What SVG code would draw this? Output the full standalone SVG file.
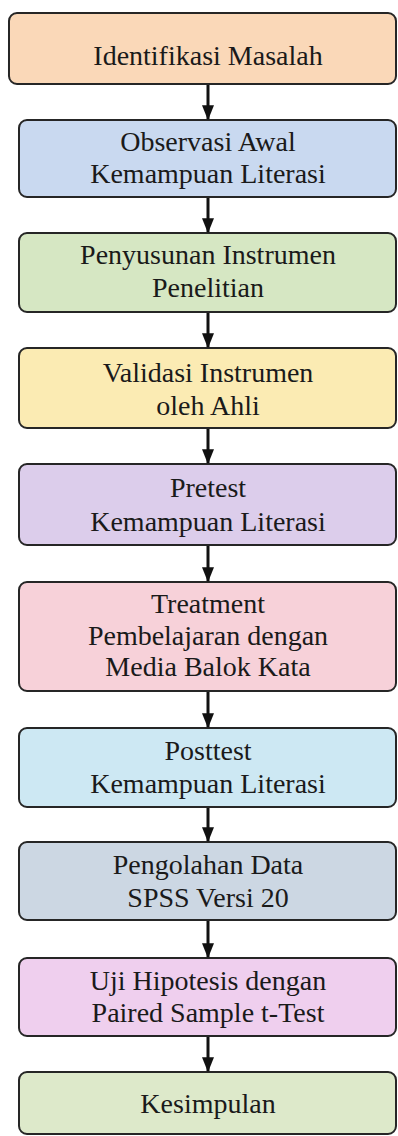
<svg xmlns="http://www.w3.org/2000/svg" width="398" height="1136" viewBox="0 0 398 1136">
<style>
.box{stroke:#262626;stroke-width:2}
.t{font-family:'Liberation Serif','DejaVu Serif',serif;font-size:28px;fill:#1a1a1a;text-anchor:middle}
.conn line{stroke:#111;stroke-width:3}
</style>
<defs>
<marker id="ah" markerWidth="5" markerHeight="4" refX="4.6" refY="2" orient="auto" markerUnits="strokeWidth">
<path d="M0,0 L5,2 L0,4 z" fill="#111"/>
</marker>
</defs>
<rect width="398" height="1136" fill="#ffffff"/>
<g id="n1"><rect class="box" x="9" y="13" width="387" height="71" rx="8" fill="#FAD8B8"/><text class="t" x="208" y="65">Identifikasi Masalah</text></g>
<g id="n2"><rect class="box" x="19" y="120" width="377" height="77" rx="8" fill="#C9D9F0"/><text class="t" x="208" y="151">Observasi Awal</text><text class="t" x="208" y="183">Kemampuan Literasi</text></g>
<g id="n3"><rect class="box" x="19" y="233" width="377" height="79" rx="8" fill="#D6E7C3"/><text class="t" x="208" y="264">Penyusunan Instrumen</text><text class="t" x="208" y="297">Penelitian</text></g>
<g id="n4"><rect class="box" x="19" y="348" width="377" height="80" rx="8" fill="#FBEBB3"/><text class="t" x="208" y="382">Validasi Instrumen</text><text class="t" x="208" y="415">oleh Ahli</text></g>
<g id="n5"><rect class="box" x="19" y="464" width="377" height="81" rx="8" fill="#DCCDEB"/><text class="t" x="208" y="497">Pretest</text><text class="t" x="208" y="531">Kemampuan Literasi</text></g>
<g id="n6"><rect class="box" x="19" y="582" width="377" height="109" rx="8" fill="#F7D1D9"/><text class="t" x="208" y="613">Treatment</text><text class="t" x="208" y="645">Pembelajaran dengan</text><text class="t" x="208" y="676">Media Balok Kata</text></g>
<g id="n7"><rect class="box" x="19" y="728" width="377" height="79" rx="8" fill="#CDE8F3"/><text class="t" x="208" y="760">Posttest</text><text class="t" x="208" y="793">Kemampuan Literasi</text></g>
<g id="n8"><rect class="box" x="19" y="842" width="377" height="78" rx="8" fill="#CCD7E3"/><text class="t" x="208" y="874">Pengolahan Data</text><text class="t" x="208" y="907">SPSS Versi 20</text></g>
<g id="n9"><rect class="box" x="19" y="958" width="377" height="78" rx="8" fill="#EFCFEE"/><text class="t" x="208" y="990">Uji Hipotesis dengan</text><text class="t" x="208" y="1022">Paired Sample t-Test</text></g>
<g id="n10"><rect class="box" x="19" y="1072" width="377" height="62" rx="8" fill="#DDE9CA"/><text class="t" x="208" y="1113">Kesimpulan</text></g>
<g id="connectors" class="conn">
<line x1="208" y1="85" x2="208" y2="119" marker-end="url(#ah)"/>
<line x1="208" y1="198" x2="208" y2="232" marker-end="url(#ah)"/>
<line x1="208" y1="313" x2="208" y2="347" marker-end="url(#ah)"/>
<line x1="208" y1="429" x2="208" y2="463" marker-end="url(#ah)"/>
<line x1="208" y1="546" x2="208" y2="581" marker-end="url(#ah)"/>
<line x1="208" y1="692" x2="208" y2="727" marker-end="url(#ah)"/>
<line x1="208" y1="808" x2="208" y2="841" marker-end="url(#ah)"/>
<line x1="208" y1="921" x2="208" y2="957" marker-end="url(#ah)"/>
<line x1="208" y1="1037" x2="208" y2="1071" marker-end="url(#ah)"/>
</g>
</svg>
